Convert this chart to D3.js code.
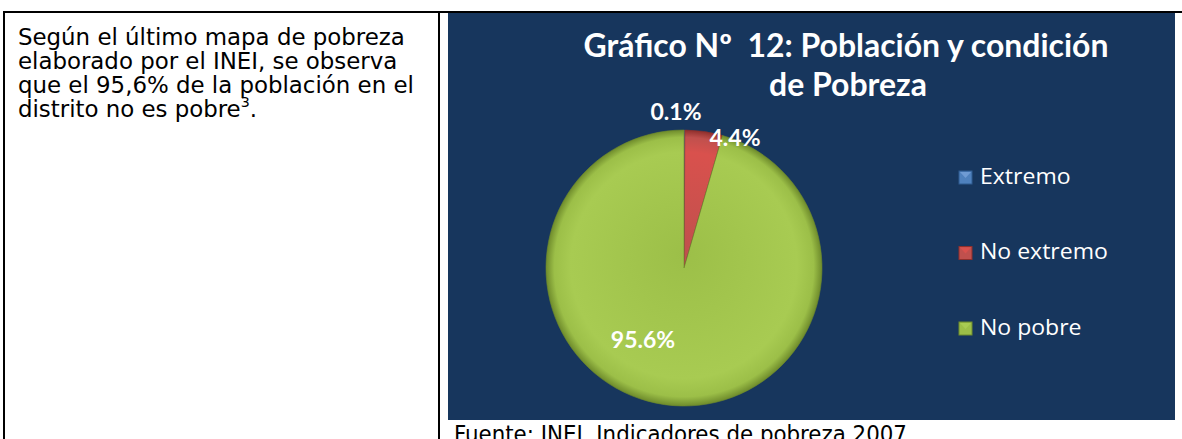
<!DOCTYPE html>
<html><head><meta charset="utf-8">
<script src="https://cdn.jsdelivr.net/npm/d3@7"></script>
<style>html,body{margin:0;padding:0;background:#fff;overflow:hidden}</style>
</head><body>
<svg id="c" width="1182" height="439"></svg>
<script>
const categories = ["Extremo", "No extremo", "No pobre"];
const values = [0.1, 4.4, 95.6];
const labels = ["0.1%", "4.4%", "95.6%"];
const titleLines = ["Gráfico Nº  12: Población y condición", "de Pobreza"];
const bodyLines = ["Según el último mapa de pobreza", "elaborado por el INEI, se observa", "que el 95,6% de la población en el", "distrito no es pobre"];
const source = "Fuente: INEI, Indicadores de pobreza 2007";

const colors = ["#4f81bd", "#c0504d", "#9cbf48"];
const light = ["#6f9bd3", "#d9514d", "#a8cb52"];
const dark = ["#2f5a8f", "#8f2f2c", "#6f8c2c"];

const svg = d3.select("#c");
const defs = svg.append("defs");

function hfit(g, textSel, x0, target) {
  const k = target / textSel.node().getComputedTextLength();
  g.attr("transform", `translate(${x0},0) scale(${k},1) translate(${-x0},0)`);
}

// table borders
svg.append("rect").attr("x", 3).attr("y", 11).attr("width", 1182).attr("height", 2).attr("fill", "#000");
svg.append("rect").attr("x", 3).attr("y", 11).attr("width", 2).attr("height", 440).attr("fill", "#000");
svg.append("rect").attr("x", 438).attr("y", 11).attr("width", 2).attr("height", 440).attr("fill", "#000");

// body text
const bodyFont = "'DejaVu Sans Condensed', 'DejaVu Sans', sans-serif";
const bodyG = svg.append("g");
const bodyTexts = bodyLines.map((t, i) => {
  const tx = bodyG.append("text").attr("x", 18).attr("y", 45 + i * 24)
    .attr("font-family", bodyFont).attr("font-size", 22.5).attr("fill", "#000").text(t);
  if (i === 3) {
    tx.append("tspan").attr("dy", -10).attr("font-size", 14).text("3");
    tx.append("tspan").attr("dy", 10).text(".");
  }
  return tx;
});
hfit(bodyG, bodyTexts[0], 18, 387);

// chart area
svg.append("rect").attr("x", 448).attr("y", 13).attr("width", 727).attr("height", 407).attr("fill", "#17365d");

const titleFont = "Lato, 'Open Sans', sans-serif";
const titleG = svg.append("g");
const t1 = titleG.append("text").attr("x", 846).attr("y", 57).attr("text-anchor", "middle")
  .attr("font-family", titleFont).attr("font-weight", "bold").attr("font-size", 32)
  .attr("fill", "#fff").style("white-space", "pre").text(titleLines[0]);
titleG.append("text").attr("x", 848).attr("y", 96).attr("text-anchor", "middle")
  .attr("font-family", titleFont).attr("font-weight", "bold").attr("font-size", 32)
  .attr("fill", "#fff").text(titleLines[1]);
hfit(titleG, t1, 846, 525);

// pie
const cx = 684, cy = 268, R = 138;
colors.forEach((c, i) => {
  const g = defs.append("radialGradient").attr("id", "g" + i)
    .attr("gradientUnits", "userSpaceOnUse").attr("cx", 0).attr("cy", 0).attr("r", R)
    .attr("fx", 0).attr("fy", -15);
  g.append("stop").attr("offset", "0%").attr("stop-color", c);
  g.append("stop").attr("offset", "82%").attr("stop-color", light[i]);
  g.append("stop").attr("offset", "94%").attr("stop-color", c);
  g.append("stop").attr("offset", "100%").attr("stop-color", dark[i]);
});
const pie = d3.pie().sort(null).value(d => d)(values);
const arc = d3.arc().innerRadius(0).outerRadius(R);
const pg = svg.append("g").attr("transform", `translate(${cx},${cy})`);
pg.selectAll("path").data(pie).join("path")
  .attr("d", arc)
  .attr("fill", (d, i) => `url(#g${i})`)
  .attr("stroke", (d, i) => dark[i]).attr("stroke-width", 0.6);

// data labels
const labelPos = [[cx - 8, 120], [cx + 51, 146], [cx - 41, 348]];
labels.forEach((l, i) => {
  svg.append("text").attr("x", labelPos[i][0]).attr("y", labelPos[i][1]).attr("text-anchor", "middle")
    .attr("font-family", titleFont).attr("font-weight", "bold").attr("font-size", 23)
    .attr("fill", "#fff").text(l);
});

// legend
const legY = d3.scalePoint().domain(categories).range([177, 328]);
const lg = svg.append("g");
const legTextG = svg.append("g");
let legRef;
categories.forEach((c, i) => {
  const y = legY(c);
  lg.append("rect").attr("x", 959).attr("y", y - 6).attr("width", 13).attr("height", 13)
    .attr("fill", colors[i]).attr("stroke", dark[i]).attr("stroke-width", 1);
  lg.append("path").attr("d", `M${960},${y-5}L${971},${y-5}L${965.5},${y+1}Z`).attr("fill", light[i]);
  const t = legTextG.append("text").attr("x", 980).attr("y", y + 7).attr("font-family", "'Open Sans', Lato, sans-serif")
    .attr("font-size", 21).attr("fill", "#fff").text(c);
  if (i === 1) legRef = t;
});
hfit(legTextG, legRef, 980, 128);

// source
const srcG = svg.append("g");
const src = srcG.append("text").attr("x", 454).attr("y", 442).attr("font-family", bodyFont)
  .attr("font-size", 22.5).attr("fill", "#000").text(source);
hfit(srcG, src, 454, 453);
</script>
</body></html>
